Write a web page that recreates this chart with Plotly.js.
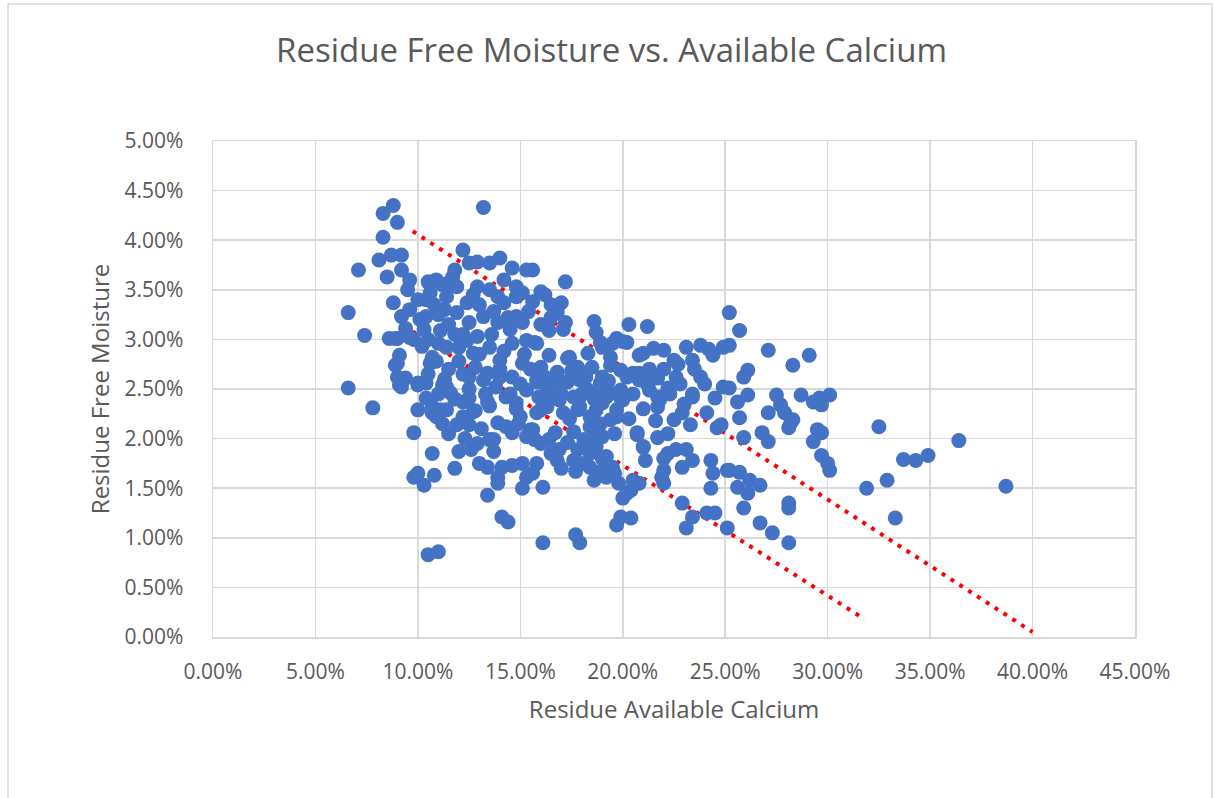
<!DOCTYPE html>
<html>
<head>
<meta charset="utf-8">
<script src="https://cdn.plot.ly/plotly-3.0.1.min.js"></script>
<style>
  html, body { margin: 0; padding: 0; background: #ffffff; }
  #chart { width: 1215px; height: 798px; }
</style>
</head>
<body>
<div id="chart"></div>
<script>
// Residue Available Calcium (%) and Residue Free Moisture (%)
const calcium = [
  6.6,6.6,7.1,7.4,7.8,8.1,8.3,8.8,9.0,8.3,8.7,9.2,8.5,9.6,9.5,8.8,9.2,9.6,10.0,9.4,10.1,10.4,8.9,9.8,8.6,9.0,9.1,8.9,9.4,9.1,10.0,9.0,9.2,
  9.8,10.0,10.4,10.7,11.1,11.4,11.9,12.5,12.7,12.2,12.5,13.4,13.9,13.5,13.7,10.7,12.0,12.6,13.0,13.4,11.8,9.8,10.0,10.3,10.8,13.9,14.1,14.6,15.1,15.3,15.1,13.9,13.4,14.1,14.4,10.5,11.0,
  10.0,10.4,11.2,11.6,10.7,10.9,11.4,12.2,12.5,13.2,14.0,14.3,14.8,15.3,15.0,14.6,15.3,13.7,14.3,
  16.1,17.7,17.9,19.7,19.9,20.4,20.0,20.4,20.8,20.5,20.7,21.0,21.1,21.7,22.0,22.2,22.6,23.1,23.4,22.9,22.0,22.0,21.9,22.9,23.4,23.1,24.3,24.4,25.1,24.3,24.1,24.5,25.1,
  21.7,21.8,22.2,22.5,22.9,23.3,23.4,23.8,22.6,24.1,24.5,24.6,24.8,24.9,
  16.7,16.9,16.8,17.7,18.4,18.6,19.0,19.2,15.8,16.1,15.6,15.7,15.5,17.8,18.1,18.7,19.0,19.2,19.5,17.3,17.6,18.4,
  17.8,17.9,18.4,19.0,19.4,19.7,19.9,18.9,17.1,16.4,16.0,15.8,17.1,19.0,20.8,20.2,
  25.2,25.7,25.2,27.1,29.1,28.3,26.1,25.9,25.2,25.6,26.1,27.5,27.7,27.9,28.2,28.3,28.1,28.7,29.3,29.7,29.6,30.1,27.1,25.7,26.8,27.1,25.9,29.5,29.7,29.3,29.7,30.0,30.1,
  32.5,33.7,34.3,34.9,31.9,32.9,33.3,25.7,25.2,26.2,26.7,26.1,25.6,25.9,28.1,28.1,26.7,27.3,28.1,36.4,38.7,
  15.6,17.2,16.0,16.5,17.0,16.8,17.2,16.4,15.7,18.6,18.7,20.3,21.2,18.9,19.7,20.2,18.3,17.4,19.4,20.8,21.5,22.0,23.1,23.8,24.4,24.9,22.5,23.4,
  12.2,12.5,12.9,13.5,14.0,14.6,15.3,11.8,11.7,10.5,10.9,9.2,11.9,11.4,10.6,12.9,13.5,14.2,14.8,15.1,13.9,12.4,11.9,11.3,10.4,14.2,14.8,13.9,12.5,13.2,14.8,15.1,14.5,12.9,12.4,11.1,11.0,10.7,9.6,9.0,10.6,11.4,12.0,12.7,13.5,14.0,14.6,15.3,15.1,13.2,
  16.8,15.8,19.0,19.5,20.0,21.0,16.4,17.3,16.0,16.8,17.8,18.5,19.4,19.9,20.5,20.8,21.5,21.7,21.3,15.8,16.3,17.3,17.9,18.3,18.9,19.2,19.9,20.0,19.7,19.4,18.7,17.9,17.6,16.9,16.3,15.8,15.6,16.4,17.6,18.4,18.7,18.4,20.7,21.0,21.7,
  10.2,10.9,11.5,12.2,12.8,13.4,14.0,14.6,15.0,11.0,11.8,12.5,13.3,13.8,14.5,10.5,11.3,12.0,13.0,14.2,15.2,14.8,13.5,12.8,14.9,16.2,15.6,16.5,17.1,15.4,16.0,
  22.0,22.8,23.4,23.0,22.3,21.2,24.0,23.5,24.2,22.7,19.8,20.2,19.6,21.6,22.2,11.2,11.5,
  10.3,10.8,11.5,10.5,11.8,11.0,12.2,13.0,13.7,14.4,12.7,13.6,
  15.5,16.2,17.0,16.6,17.5,15.9,18.0,18.6,19.3,18.2,17.4,18.9,19.6,18.0,19.0,17.0,16.5,16.0,
  11.5,12.3,13.1,12.9,11.2,20.5,21.0,20.3,21.3
];
const moisture = [
  3.27,2.51,3.70,3.04,2.31,3.80,4.27,4.35,4.18,4.03,3.85,3.85,3.63,3.60,3.50,3.37,3.23,3.30,3.40,3.11,3.20,3.23,3.01,3.00,3.01,3.01,2.84,2.74,2.61,2.54,2.54,2.62,2.52,
  2.06,2.29,2.41,2.26,2.29,2.52,2.14,2.14,2.27,2.37,2.41,2.37,2.16,1.99,1.87,1.85,1.87,1.89,1.75,1.71,1.70,1.61,1.65,1.53,1.63,1.61,1.71,1.73,1.75,1.61,1.50,1.55,1.43,1.21,1.16,0.83,0.86,
  2.56,2.56,2.54,2.46,2.32,2.22,2.29,2.22,2.62,2.59,2.62,2.42,2.36,2.49,2.22,2.06,2.02,1.99,2.12,
  0.95,1.03,0.95,1.13,1.21,1.20,1.40,1.48,1.55,1.58,2.04,1.91,1.78,2.01,1.80,1.85,1.89,1.89,1.78,1.71,1.68,1.55,1.61,1.35,1.21,1.10,1.78,1.65,1.68,1.50,1.25,1.25,1.10,
  2.61,2.39,2.51,2.19,2.26,2.14,2.42,2.62,2.62,2.26,2.41,2.11,2.14,2.52,
  2.06,1.89,1.78,1.67,1.71,1.58,1.68,1.61,1.75,1.51,1.65,1.99,2.09,1.89,1.99,1.92,2.02,1.82,1.71,1.96,1.78,1.85,
  2.29,2.42,2.22,2.36,2.46,2.22,2.41,2.56,2.56,2.42,2.29,2.59,2.26,2.62,2.66,2.62,
  3.27,3.09,2.94,2.89,2.84,2.74,2.69,2.62,2.51,2.37,2.44,2.44,2.34,2.26,2.16,2.19,2.11,2.44,2.37,2.34,2.41,2.44,2.26,2.21,2.06,1.97,2.01,2.09,2.06,1.97,1.83,1.75,1.68,
  2.12,1.79,1.78,1.83,1.50,1.58,1.20,1.66,1.68,1.58,1.53,1.45,1.51,1.30,1.35,1.30,1.15,1.05,0.95,1.98,1.52,
  3.70,3.58,3.48,3.35,3.37,3.27,3.17,3.09,2.97,3.18,3.07,3.15,3.13,2.97,3.01,2.97,2.86,2.82,2.82,2.84,2.91,2.89,2.92,2.94,2.84,2.92,2.79,2.79,
  3.90,3.77,3.78,3.77,3.82,3.72,3.70,3.70,3.63,3.58,3.60,3.70,3.53,3.43,3.47,3.53,3.50,3.60,3.53,3.47,3.43,3.37,3.27,3.30,3.40,3.37,3.43,3.17,3.17,3.23,3.23,3.17,3.10,3.03,2.99,3.09,2.96,2.82,3.02,2.76,2.76,2.92,2.92,2.86,2.92,2.79,2.96,2.99,2.76,4.33,
  3.33,2.96,2.92,2.96,2.98,2.86,2.84,2.81,2.72,2.67,2.72,2.72,2.74,2.69,2.66,2.59,2.62,2.42,2.49,2.57,2.49,2.57,2.59,2.49,2.52,2.42,2.49,2.39,2.29,2.19,2.29,2.32,2.42,2.39,2.32,2.26,2.09,1.99,2.07,2.12,2.02,1.92,2.06,1.92,2.32,
  2.93,2.78,2.70,2.65,2.72,2.66,2.70,2.62,2.55,2.45,2.40,2.50,2.45,2.52,2.45,2.65,2.60,2.78,2.85,2.88,2.85,2.30,2.33,2.28,2.15,3.45,3.38,3.22,3.10,3.28,3.15,
  2.70,2.55,2.45,2.35,2.45,2.55,2.55,2.70,2.90,2.75,1.55,1.45,1.65,2.18,2.05,3.55,3.57,
  3.10,3.35,3.15,3.00,3.05,3.25,3.05,3.35,3.28,3.22,3.45,3.05,
  2.70,2.62,2.45,2.55,2.68,2.42,2.45,2.40,2.58,2.62,2.20,2.15,2.05,1.75,1.80,1.70,1.85,1.95,
  2.05,2.00,2.10,1.95,2.15,2.45,2.30,2.20,2.70
];

// Two dotted guide lines (end points, %)
const upperLineX = [9.75, 40.0];
const upperLineY = [4.09, 0.05];
const lowerLineX = [9.75, 31.8];
const lowerLineY = [3.08, 0.18];

const pct = a => a.map(v => v / 100);

const textColor = '#595959';
const gridColor = '#D9D9D9';
const fontFamily = '"Open Sans", "Noto Sans", sans-serif';

const lineStyle = { color: '#FF0000', width: 4, dash: '4px,6.5px' };

const traces = [
  { x: pct(upperLineX), y: pct(upperLineY), type: 'scatter', mode: 'lines', line: lineStyle, hoverinfo: 'skip' },
  { x: pct(lowerLineX), y: pct(lowerLineY), type: 'scatter', mode: 'lines', line: lineStyle, hoverinfo: 'skip' },
  {
    x: pct(calcium), y: pct(moisture), type: 'scatter', mode: 'markers',
    marker: { color: '#4472C4', size: 15, line: { width: 0 } }
  }
];

const W = 1215, H = 798, L = 213, R = 80, T = 141, B = 161;
const pw = W - L - R, ph = H - T - B;
const px2x = p => (p - L) / pw;
const py2y = p => (H - B - p) / ph;

const layout = {
  width: W, height: H,
  margin: { l: L, r: R, t: T, b: B, pad: 0 },
  paper_bgcolor: '#ffffff',
  plot_bgcolor: '#ffffff',
  showlegend: false,
  hovermode: false,
  font: { family: fontFamily, color: textColor },
  title: {
    text: 'Residue Free Moisture vs. Available Calcium',
    font: { family: fontFamily, size: 33, color: textColor },
    xref: 'container', yref: 'container',
    x: 611.5 / W, xanchor: 'center',
    y: 1 - 50 / H, yanchor: 'middle'
  },
  xaxis: {
    range: [0, 0.45], tick0: 0, dtick: 0.05, tickformat: '.2%',
    showgrid: true, gridcolor: gridColor, gridwidth: 1.5,
    zeroline: false, showline: true, mirror: true, linecolor: gridColor, linewidth: 1.5,
    ticks: 'outside', ticklen: 15, tickcolor: 'rgba(0,0,0,0)',
    tickfont: { family: fontFamily, size: 21, color: textColor },
    title: { text: 'Residue Available Calcium', standoff: 17,
             font: { family: fontFamily, size: 24, color: textColor } },
    fixedrange: true
  },
  yaxis: {
    range: [0, 0.05], tick0: 0, dtick: 0.005, tickformat: '.2%',
    showgrid: true, gridcolor: gridColor, gridwidth: 1.5,
    zeroline: false, showline: true, mirror: true, linecolor: gridColor, linewidth: 1.5,
    ticks: 'outside', ticklen: 24, tickcolor: 'rgba(0,0,0,0)',
    tickfont: { family: fontFamily, size: 21, color: textColor },
    title: { text: 'Residue Free Moisture', standoff: 8,
             font: { family: fontFamily, size: 24, color: textColor } },
    fixedrange: true
  },
  shapes: [
    { type: 'rect', xref: 'paper', yref: 'paper',
      x0: px2x(8), x1: px2x(1212), y0: py2y(805), y1: py2y(4),
      line: { color: gridColor, width: 1.5 }, fillcolor: 'rgba(0,0,0,0)', layer: 'below' }
  ]
};

Plotly.newPlot('chart', traces, layout, { displayModeBar: false, staticPlot: true });
</script>
</body>
</html>
